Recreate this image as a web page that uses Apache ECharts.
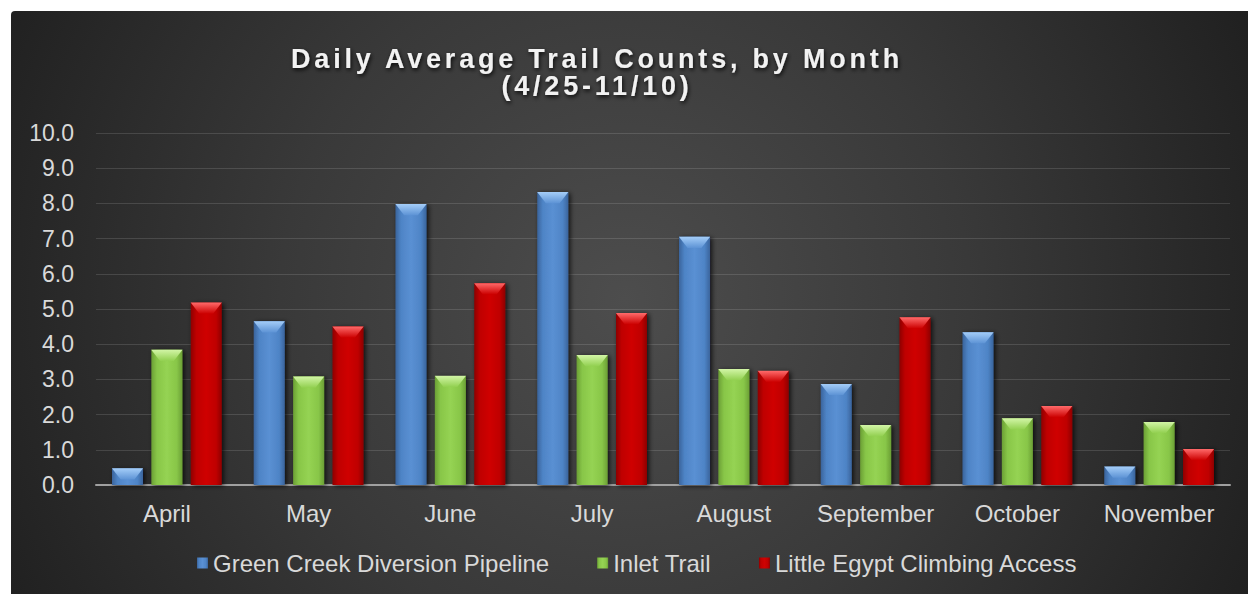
<!DOCTYPE html>
<html>
<head>
<meta charset="utf-8">
<script src="https://cdn.jsdelivr.net/npm/echarts@6/dist/echarts.min.js"></script>
<style>
  html, body { margin: 0; padding: 0; background: #ffffff; }
  #chart { width: 1248px; height: 594px; }
  /* expanded character spacing for the bold heading */
  #chart text[style*="bold"], #chart text[font-weight="bold"] { letter-spacing: 3.8px; }
</style>
</head>
<body>
<div id="chart"></div>
<script>
// Daily average trail counts per month
const months = ['April', 'May', 'June', 'July', 'August', 'September', 'October', 'November'];
const greenCreek = [0.47, 4.65, 7.98, 8.32, 7.05, 2.87, 4.34, 0.52];
const inletTrail = [3.84, 3.08, 3.10, 3.69, 3.29, 1.70, 1.89, 1.79];
const littleEgypt = [5.18, 4.50, 5.73, 4.88, 3.24, 4.76, 2.24, 1.02];
const seriesNames = ['Green Creek Diversion Pipeline', 'Inlet Trail', 'Little Egypt Climbing Access'];
const yMin = 0, yMax = 10, yStep = 1;

const FONT = '"Liberation Sans", Arial, sans-serif';
const BAR_W = 31, BAR_GAP = '27%', CAT_GAP = '22%';

function hGrad(edge, mid, center) {
  return new echarts.graphic.LinearGradient(0, 0, 1, 0, [
    { offset: 0, color: edge }, { offset: 0.18, color: mid },
    { offset: 0.5, color: center }, { offset: 0.82, color: mid },
    { offset: 1, color: edge }
  ]);
}
function vGrad(top, bottom) {
  return new echarts.graphic.LinearGradient(0, 0, 0, 1, [
    { offset: 0, color: top }, { offset: 1, color: bottom }
  ]);
}

const palette = [
  { body: hGrad('#3a649c', '#4e84c6', '#5a90d3'), bevel: vGrad('#a4cdf8', '#5d93d5') },
  { body: hGrad('#6b9f35', '#88c648', '#95d353'), bevel: vGrad('#d2f5a6', '#92d050') },
  { body: hGrad('#8e0000', '#bf0000', '#cf0202'), bevel: vGrad('#ff6a6a', '#cc0000') }
];
const values = [greenCreek, inletTrail, littleEgypt];

const barSeries = values.map((vals, i) => ({
  name: seriesNames[i],
  type: 'bar',
  data: vals,
  barWidth: BAR_W,
  barGap: BAR_GAP,
  barCategoryGap: CAT_GAP,
  z: 2,
  itemStyle: {
    color: palette[i].body,
    shadowColor: 'rgba(0,0,0,0.75)',
    shadowBlur: 5,
    shadowOffsetX: 2,
    shadowOffsetY: 1
  }
}));

// bevelled cap on top of each bar
const capSeries = values.map((vals, i) => ({
  type: 'pictorialBar',
  data: vals,
  barWidth: BAR_W,
  barGap: BAR_GAP,
  barCategoryGap: CAT_GAP,
  symbol: 'path://M0,0L100,0L72,100L28,100Z',
  symbolSize: [BAR_W, 11],
  symbolPosition: 'end',
  z: 3,
  silent: true,
  itemStyle: { color: palette[i].bevel }
}));

const chart = echarts.init(document.getElementById('chart'), null, { renderer: 'svg', width: 1248, height: 594 });

chart.setOption({
  animation: false,
  graphic: [{
    type: 'rect',
    z: -100,
    silent: true,
    shape: { x: 11, y: 11, width: 1237, height: 583, r: [4, 0, 0, 0] },
    style: {
      fill: new echarts.graphic.RadialGradient(625, 300, 690, [
        { offset: 0, color: '#4d4d4d' },
        { offset: 0.5, color: '#393939' },
        { offset: 1, color: '#202020' }
      ], true)
    }
  }],
  title: {
    text: 'Daily Average Trail Counts, by Month\n(4/25-11/10)',
    left: 597,
    top: 45,
    padding: 0,
    textAlign: 'center',
    textStyle: {
      fontFamily: FONT,
      fontSize: 27,
      fontWeight: 'bold',
      color: '#f2f2f2',
      lineHeight: 27,
      textShadowColor: 'rgba(0,0,0,0.85)',
      textShadowBlur: 4,
      textShadowOffsetX: 1,
      textShadowOffsetY: 2
    }
  },
  legend: {
    data: seriesNames,
    left: 197,
    top: 551,
    padding: 0,
    itemWidth: 11,
    itemHeight: 11,
    itemGap: 48,
    icon: 'rect',
    textStyle: { fontFamily: FONT, fontSize: 24, color: '#d9d9d9' }
  },
  grid: { left: 96, right: 18, top: 133, bottom: 109, containLabel: false },
  xAxis: {
    type: 'category',
    data: months,
    axisTick: { show: false },
    axisLine: { lineStyle: { color: '#a0a0a0', width: 2 } },
    axisLabel: { interval: 0, fontFamily: FONT, fontSize: 24, color: '#d9d9d9', margin: 16 }
  },
  yAxis: {
    type: 'value',
    min: yMin,
    max: yMax,
    interval: yStep,
    axisLine: { show: false },
    axisTick: { show: false },
    splitLine: { lineStyle: { color: 'rgba(255,255,255,0.13)', width: 1 } },
    axisLabel: {
      fontFamily: FONT, fontSize: 23, color: '#d9d9d9', margin: 22,
      formatter: v => v.toFixed(1)
    }
  },
  series: barSeries.concat(capSeries)
});
</script>
</body>
</html>
